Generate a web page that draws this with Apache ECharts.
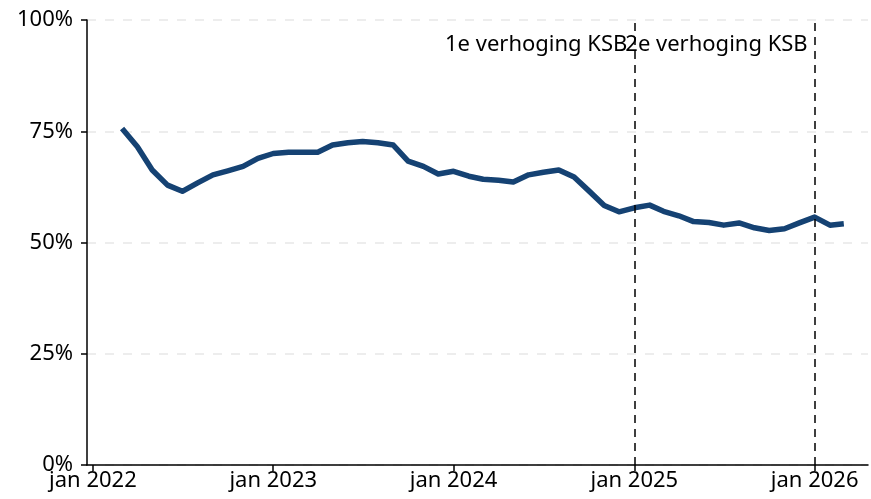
<!DOCTYPE html>
<html>
<head>
<meta charset="utf-8">
<title>Verhoging KSB</title>
<script src="https://cdn.jsdelivr.net/npm/echarts@6/dist/echarts.min.js"></script>
<style>
  html, body { margin: 0; padding: 0; background: #fff; }
  #chart { width: 871px; height: 499px; }
</style>
</head>
<body>
<div id="chart"></div>
<script>
// maanden (maart 2022 t/m maart 2026)
var months = [
  '2022-03', '2022-04', '2022-05', '2022-06', '2022-07', '2022-08', '2022-09', '2022-10', '2022-11', '2022-12',
  '2023-01', '2023-02', '2023-03', '2023-04', '2023-05', '2023-06', '2023-07', '2023-08', '2023-09', '2023-10', '2023-11', '2023-12',
  '2024-01', '2024-02', '2024-03', '2024-04', '2024-05', '2024-06', '2024-07', '2024-08', '2024-09', '2024-10', '2024-11', '2024-12',
  '2025-01', '2025-02', '2025-03', '2025-04', '2025-05', '2025-06', '2025-07', '2025-08', '2025-09', '2025-10', '2025-11', '2025-12',
  '2026-01', '2026-02', '2026-03'
]
var values = [
  75.6, 71.5, 66.3, 62.9, 61.5, 63.4, 65.2, 66.1, 67.1, 68.9,
  70.0, 70.3, 70.3, 70.3, 71.9, 72.4, 72.7, 72.4, 71.9, 68.3, 67.1, 65.4,
  66.0, 64.9, 64.2, 64.0, 63.6, 65.2, 65.8, 66.3, 64.7, 61.6, 58.3, 56.9,
  57.8, 58.4, 57.0, 56.0, 54.7, 54.5, 53.9, 54.4, 53.3, 52.7, 53.1, 54.4,
  55.7, 53.9, 54.2
]
var tickLabelPrefix = 'jan '
var yTicks = [0, 25, 50, 75, 100]
var eventDates = ['2025-01-01', '2026-01-01']
var eventLabels = ['1e verhoging KSB', '2e verhoging KSB']

var font = 'Noto Sans'
var YEAR = 365.25 * 24 * 3600 * 1000

var chart = echarts.init(document.getElementById('chart'), null, {renderer: 'canvas'})

var option = {
  animation: false,
  grid: {
    left: 87,
    right: 3,
    top: 20,
    bottom: 34,
    containLabel: false
  },
  xAxis: {
    type: 'time',
    min: '2021-12-20',
    max: '2026-04-19',
    minInterval: YEAR,
    maxInterval: YEAR,
    axisLine: { show: true, onZero: false, lineStyle: { color: '#000', width: 1.5 } },
    axisTick: { show: true, length: 6, lineStyle: { color: '#000', width: 1.5 } },
    axisLabel: {
      color: '#000',
      fontFamily: font,
      fontSize: 22,
      margin: 5,
      showMinLabel: false,
      showMaxLabel: false,
      formatter: function (v) {
        return tickLabelPrefix + new Date(v).getFullYear()
      }
    },
    splitLine: { show: false }
  },
  yAxis: {
    type: 'value',
    min: yTicks[0],
    max: yTicks[yTicks.length - 1],
    interval: 25,
    axisLine: { show: true, lineStyle: { color: '#000', width: 1.5 } },
    axisTick: { show: true, length: 6, lineStyle: { color: '#000', width: 1.5 } },
    axisLabel: {
      color: '#000',
      fontFamily: font,
      fontSize: 22,
      margin: 14,
      formatter: '{value}%'
    },
    splitLine: {
      show: true,
      lineStyle: { color: '#e8e8e8', width: 1.5, type: [9, 9] }
    }
  },
  series: [
    {
      type: 'line',
      data: months.map(function (m, i) { return [m + '-01', values[i]] }),
      showSymbol: false,
      symbol: 'none',
      lineStyle: { color: '#154273', width: 5.5, join: 'round' },
      itemStyle: { color: '#154273' },
      z: 3,
      markLine: {
        silent: true,
        symbol: ['none', 'none'],
        label: { show: false },
        lineStyle: { color: '#000', width: 1.5, type: [8, 6] },
        data: eventDates.map(function (d) { return { xAxis: d } })
      },
      markPoint: {
        silent: true,
        symbol: 'circle',
        symbolSize: 0,
        label: {
          show: true,
          position: 'left',
          distance: 7,
          color: '#000',
          fontFamily: font,
          fontSize: 22,
          formatter: function (p) { return p.name }
        },
        data: eventDates.map(function (d, i) { return { name: eventLabels[i], coord: [d, 94.4] } })
      }
    }
  ]
}

chart.setOption(option)
</script>
</body>
</html>
